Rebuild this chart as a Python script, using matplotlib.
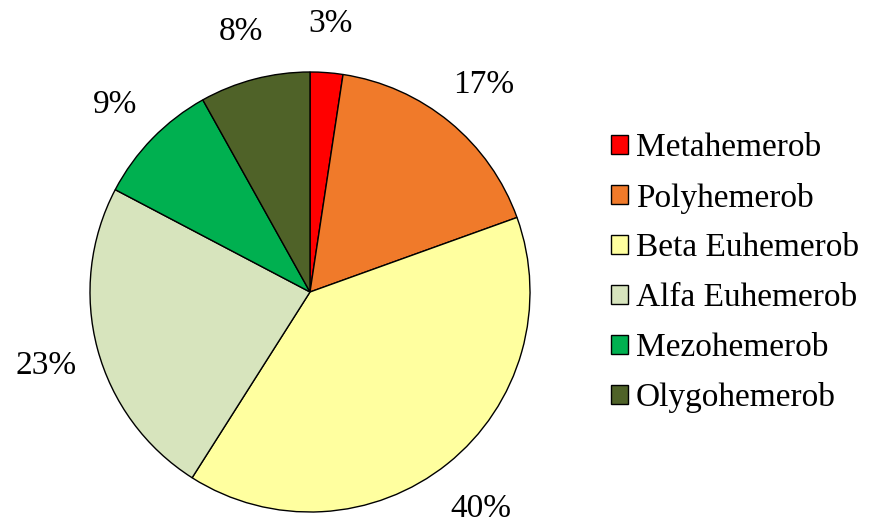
import matplotlib
matplotlib.use("Agg")
from matplotlib import pyplot as plt

categories = ["Metahemerob", "Polyhemerob", "Beta Euhemerob",
              "Alfa Euhemerob", "Mezohemerob", "Olygohemerob"]
values = [2.4, 17.1, 39.5, 23.7, 9.2, 8.1]
pct_labels = ["3%", "17%", "40%", "23%", "9%", "8%"]
colors = ["#FF0000", "#F07A2A", "#FFFF9F", "#D7E4BD", "#00B050", "#4F6228"]

plt.rcParams['font.family'] = ['Liberation Serif', 'DejaVu Serif']

W, H = 885, 523
fig = plt.figure(figsize=(W / 100, H / 100), dpi=100)
cx, cy, r = 310, 292, 220
ax = fig.add_axes([(cx - r) / W, (H - cy - r) / H, 2 * r / W, 2 * r / H])

wedges, texts = ax.pie(values, colors=colors, labels=pct_labels,
                       startangle=90, counterclock=False, labeldistance=1.24,
                       wedgeprops=dict(edgecolor='black', linewidth=1),
                       textprops=dict(fontsize=24, color='black'))
for t in texts:
    t.set_ha('center')
    t.set_va('center_baseline')
ax.set_xlim(-1, 1)
ax.set_ylim(-1, 1)
ax.set_aspect('equal')
ax.axis('off')

fig.legend(wedges, categories, loc='center left',
           bbox_to_anchor=(611 / W, 1 - 273 / H), frameon=False,
           fontsize=24, handlelength=0.5, handleheight=0.5,
           handletextpad=0.25, labelspacing=0.58, borderpad=0,
           borderaxespad=0)

fig.savefig("out.png", dpi=100)
